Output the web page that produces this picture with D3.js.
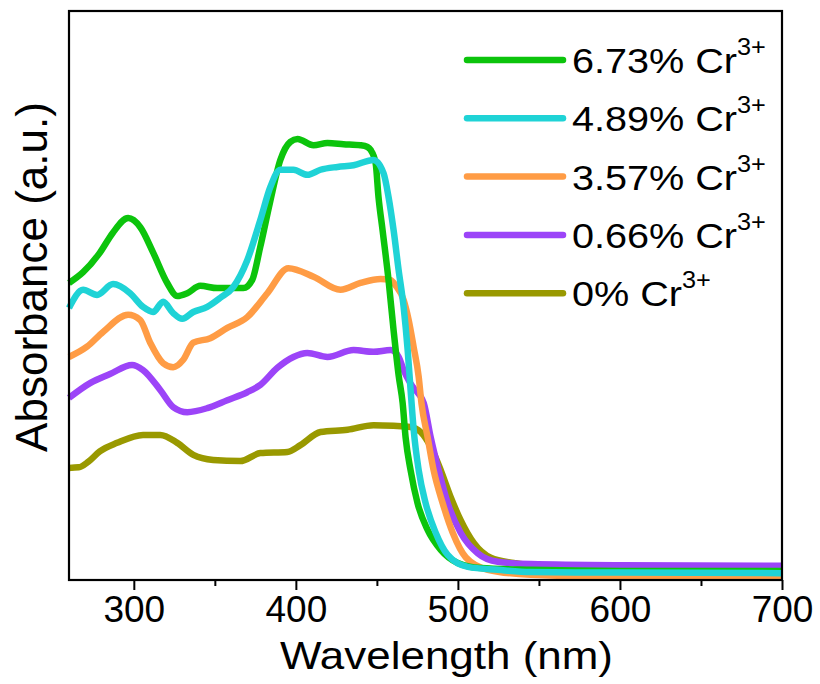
<!DOCTYPE html>
<html>
<head>
<meta charset="utf-8">
<script src="https://cdn.jsdelivr.net/npm/d3@7"></script>
<style>
  body { margin: 0; background: #fff; }
  text { font-family: Arial, "Liberation Sans", sans-serif; fill: #000; }
</style>
</head>
<body>
<div class="chart"></div>
<script>
// absorbance spectra: [wavelength nm, absorbance a.u.]
let cr673 = [[260,.522],[268.7,.541],[279,.575],[287,.610],[296.5,.636],[304,.620],[312,.575],[320.6,.522],[326.8,.499],[333,.504],[341,.517],[351.5,.513],[367.6,.513],[373,.527],[378,.585],[384,.663],[390.4,.738],[396.6,.770],[401,.775],[410.9,.764],[419.5,.768],[429.4,.766],[439.9,.764],[444.2,.761],[446.1,.756],[449.2,.733],[451,.673],[453.5,.615],[457.2,.527],[460.3,.439],[463.4,.360],[465.9,.311],[467.7,.251],[470.8,.193],[475.1,.135],[481.3,.088],[489.4,.053],[499.9,.030],[514.1,.021],[545,.018],[600,.016],[700,.016]];
let cr489 = [[260,.478],[268.7,.510],[277.3,.501],[287.2,.520],[297.7,.504],[305.7,.480],[311.9,.471],[318.1,.489],[324.3,.469],[329.9,.459],[336.7,.471],[345.3,.480],[353.4,.496],[361.4,.515],[370,.562],[378.1,.633],[384.3,.691],[390.4,.721],[398.5,.721],[407.1,.712],[415.2,.721],[425.7,.726],[435.6,.729],[447.9,.738],[454.1,.715],[457.2,.673],[460.3,.615],[463.4,.545],[466.5,.480],[469,.404],[470.8,.334],[472.7,.264],[475.8,.193],[480.1,.135],[486.3,.083],[493.7,.044],[506.1,.023],[524.6,.018],[545,.014],[600,.013],[700,.012]];
let cr357 = [[260,.392],[271.1,.410],[281,.436],[296.5,.466],[303.9,.457],[310.1,.417],[318.1,.381],[324.3,.374],[330.5,.387],[336.7,.417],[347.2,.425],[357.7,.443],[370,.462],[382.4,.504],[395.4,.548],[410.9,.533],[427.5,.510],[439.9,.522],[452.3,.529],[458.5,.527],[461.5,.518],[466.5,.492],[469.6,.457],[472.7,.409],[475.8,.357],[477.5,.311],[481.3,.251],[485,.193],[490.6,.135],[496.8,.083],[504.8,.040],[518.4,.018],[545,.009],[600,.005],[700,.004]];
let cr066 = [[260,.320],[273,.346],[285.3,.362],[298.9,.378],[305.7,.369],[316.3,.334],[324.3,.304],[333,.295],[345.3,.302],[357.7,.316],[370,.330],[378.1,.343],[388.6,.373],[398.5,.392],[407.1,.399],[419.5,.392],[435.6,.404],[447.9,.401],[458.5,.404],[463.4,.392],[466.5,.369],[469.6,.351],[472,.340],[478.9,.311],[483.2,.251],[488.1,.193],[493.7,.135],[501.7,.083],[512.2,.047],[524.6,.032],[545,.028],[600,.026],[700,.025]];
let cr0 = [[260,.197],[266,.198],[272,.208],[279,.226],[289.7,.241],[305.7,.255],[316.3,.255],[326.8,.241],[336.7,.220],[349,.211],[365.7,.209],[378.1,.223],[394.8,.225],[402.8,.237],[415.2,.260],[431.9,.264],[447.9,.272],[460.3,.271],[470.8,.269],[477,.260],[483.2,.234],[489.4,.193],[495.5,.146],[501.7,.105],[509.8,.065],[520.3,.039],[534.5,.030],[545,.026],[600,.023],[700,.022]];

let labels = ["6.73%", "4.89%", "3.57%", "0.66%", "0%"];
let spectra = [cr673, cr489, cr357, cr066, cr0];
let colors = ["#0cc40c", "#1fd3d6", "#ff9c45", "#9c44f8", "#999900"];
let majorTicks = [300, 400, 500, 600, 700];
let minorTicks = [350, 450, 550, 650];

let margin = {top: 11, right: 38, bottom: 104, left: 69};
let width = 820 - margin.left - margin.right;
let height = 684 - margin.top - margin.bottom;

let svg = d3.select('.chart')
    .append('svg')
    .attr('width', 820)
    .attr('height', 684)
    .append('g')
    .attr('transform', `translate(${margin.left},${margin.top})`);

let xScale = d3.scaleLinear()
    .domain([260, 700])
    .range([0, width]);

let yScale = d3.scaleLinear()
    .domain([0, 1])
    .range([height, 0]);

let line = d3.line()
    .x(d => xScale(d[0]))
    .y(d => yScale(d[1]))
    .curve(d3.curveMonotoneX);

// draw bottom-most first, cyan ends up on top
let order = [4, 3, 2, 0, 1];
order.forEach(i => {
    svg.append('path')
        .datum(spectra[i])
        .attr('fill', 'none')
        .attr('stroke', colors[i])
        .attr('stroke-width', 6.5)
        .attr('stroke-linejoin', 'round')
        .attr('d', line);
});

// frame
svg.append('rect')
    .attr('width', width)
    .attr('height', height)
    .attr('fill', 'none')
    .attr('stroke', '#000')
    .attr('stroke-width', 2.2);

// bottom axis
let xAxis = d3.axisBottom(xScale)
    .tickValues(majorTicks)
    .tickSize(10)
    .tickPadding(6)
    .tickFormat(d3.format('d'));

let gx = svg.append('g')
    .attr('class', 'axis x-axis')
    .attr('transform', `translate(0,${height})`)
    .call(xAxis);
gx.select('.domain').remove();
gx.selectAll('line').attr('stroke', '#000').attr('stroke-width', 2);
gx.selectAll('text').attr('font-size', 37).attr('font-family', 'Arial, "Liberation Sans", sans-serif');

let gMinor = svg.append('g')
    .attr('transform', `translate(0,${height})`)
    .call(d3.axisBottom(xScale).tickValues(minorTicks).tickSize(6).tickFormat(''));
gMinor.select('.domain').remove();
gMinor.selectAll('line').attr('stroke', '#000').attr('stroke-width', 2);

// axis titles
svg.append('text')
    .attr('x', 446.5 - margin.left)
    .attr('y', height + 89)
    .attr('text-anchor', 'middle')
    .attr('font-size', 39)
    .attr('textLength', 333)
    .attr('lengthAdjust', 'spacingAndGlyphs')
    .text('Wavelength (nm)');

svg.append('text')
    .attr('transform', `translate(${47 - margin.left},${277 - margin.top}) rotate(-90)`)
    .attr('text-anchor', 'middle')
    .attr('font-size', 44)
    .text('Absorbance (a.u.)');

// legend
let legend = svg.append('g')
    .attr('transform', `translate(${467 - margin.left},${60 - margin.top})`);

legend.selectAll('line')
    .data(labels)
    .enter()
    .append('line')
    .attr('x1', 0)
    .attr('x2', 96)
    .attr('y1', (d, i) => i * 58.3)
    .attr('y2', (d, i) => i * 58.3)
    .attr('stroke', (d, i) => colors[i])
    .attr('stroke-width', 6.5)
    .attr('stroke-linecap', 'round');

let lt = legend.selectAll('g.label')
    .data(labels)
    .enter()
    .append('g')
    .attr('class', 'label')
    .attr('transform', (d, i) => `translate(105,${i * 58.3 + 13}) scale(1.1,1)`)
    .append('text')
    .attr('font-size', 36);
lt.append('tspan').text(d => d + ' Cr');
lt.append('tspan')
    .attr('dy', -18)
    .attr('font-size', 23)
    .text('3+');
</script>
</body>
</html>
